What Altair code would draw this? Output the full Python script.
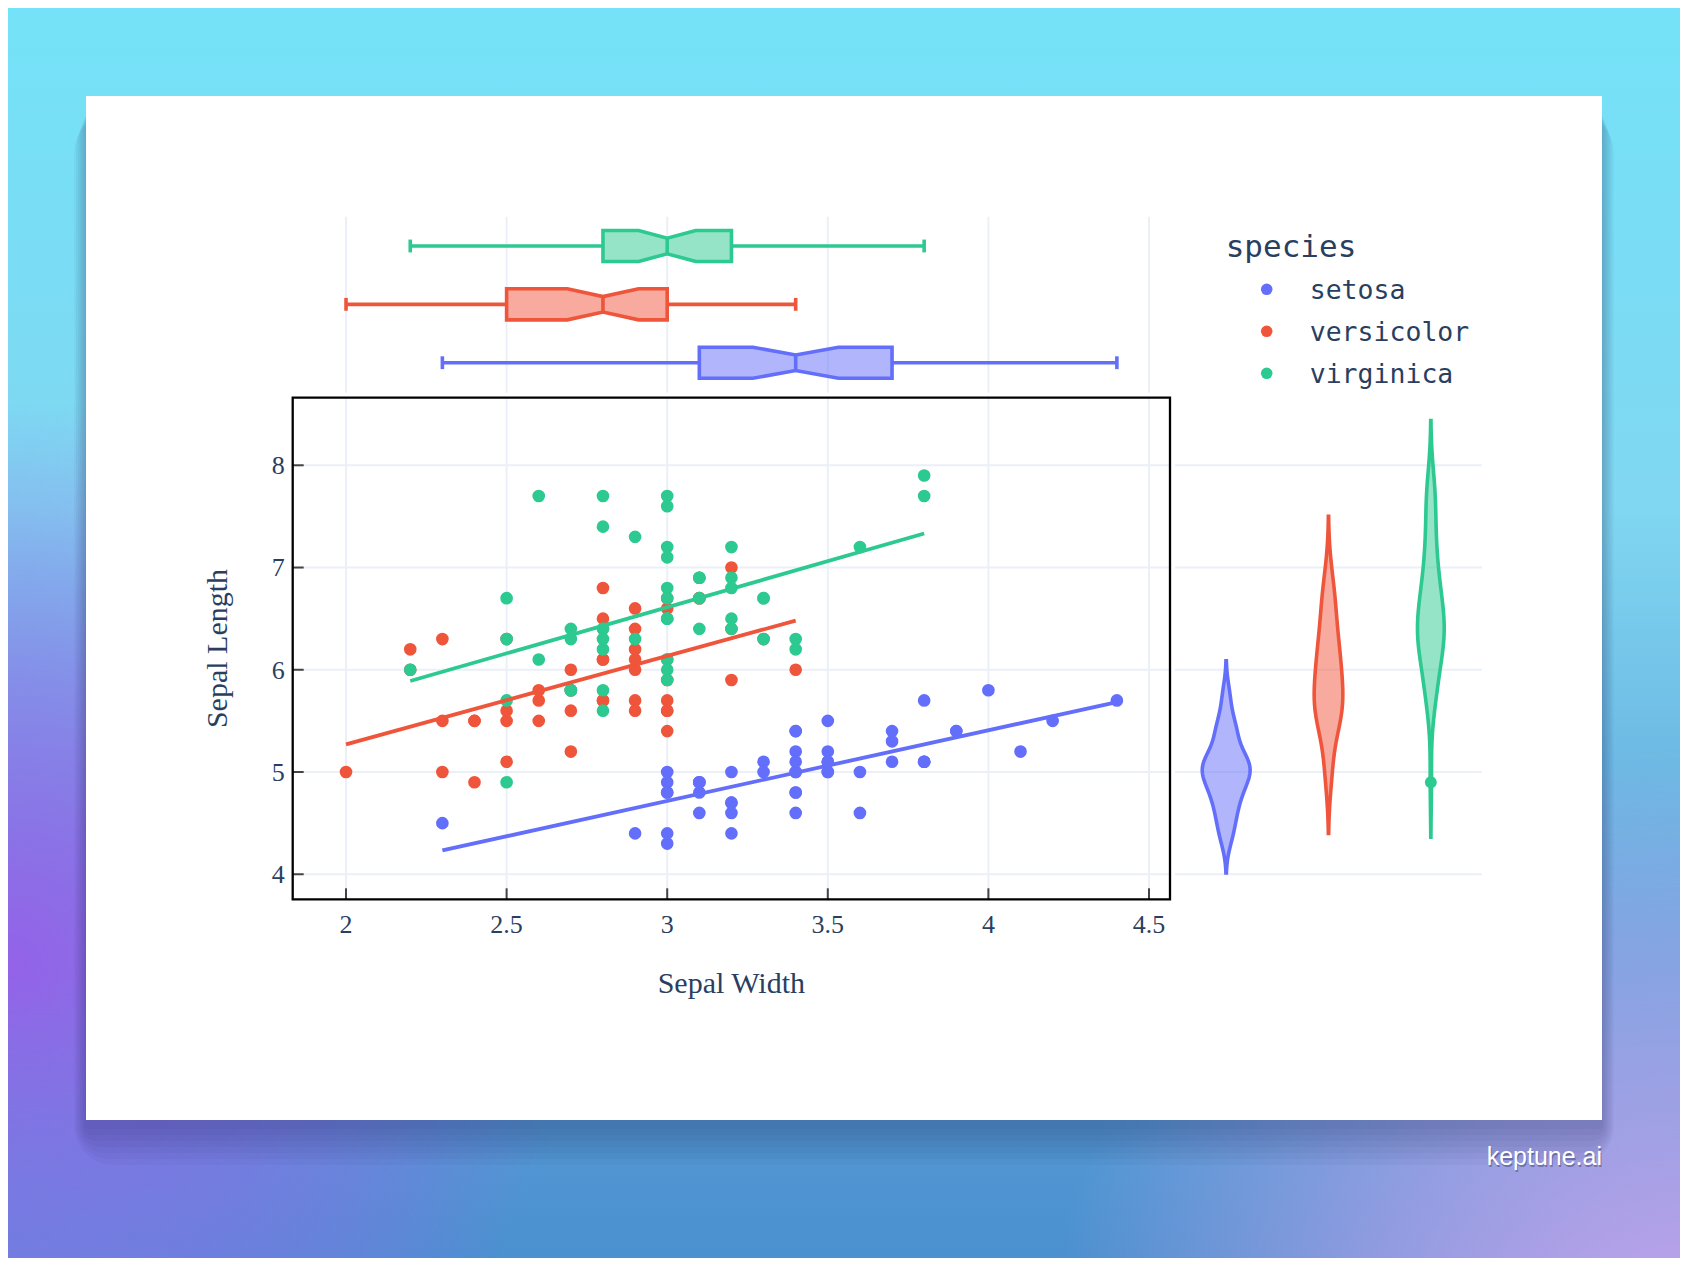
import altair as alt
import numpy as np
import pandas as pd

# ---------------- data (iris) ----------------
species = ["setosa", "versicolor", "virginica"]
colors = ["#636efa", "#ef553b", "#2cc990"]

setosa_sepal_length = [5.1, 4.9, 4.7, 4.6, 5.0, 5.4, 4.6, 5.0, 4.4, 4.9,
                       5.4, 4.8, 4.8, 4.3, 5.8, 5.7, 5.4, 5.1, 5.7, 5.1,
                       5.4, 5.1, 4.6, 5.1, 4.8, 5.0, 5.0, 5.2, 5.2, 4.7,
                       4.8, 5.4, 5.2, 5.5, 4.9, 5.0, 5.5, 4.9, 4.4, 5.1,
                       5.0, 4.5, 4.4, 5.0, 5.1, 4.8, 5.1, 4.6, 5.3, 5.0]
setosa_sepal_width = [3.5, 3.0, 3.2, 3.1, 3.6, 3.9, 3.4, 3.4, 2.9, 3.1,
                      3.7, 3.4, 3.0, 3.0, 4.0, 4.4, 3.9, 3.5, 3.8, 3.8,
                      3.4, 3.7, 3.6, 3.3, 3.4, 3.0, 3.4, 3.5, 3.4, 3.2,
                      3.1, 3.4, 4.1, 4.2, 3.1, 3.2, 3.5, 3.1, 3.0, 3.4,
                      3.5, 2.3, 3.2, 3.5, 3.8, 3.0, 3.8, 3.2, 3.7, 3.3]
versicolor_sepal_length = [7.0, 6.4, 6.9, 5.5, 6.5, 5.7, 6.3, 4.9, 6.6, 5.2,
                           5.0, 5.9, 6.0, 6.1, 5.6, 6.7, 5.6, 5.8, 6.2, 5.6,
                           5.9, 6.1, 6.3, 6.1, 6.4, 6.6, 6.8, 6.7, 6.0, 5.7,
                           5.5, 5.5, 5.8, 6.0, 5.4, 6.0, 6.7, 6.3, 5.6, 5.5,
                           5.5, 6.1, 5.8, 5.0, 5.6, 5.7, 5.7, 6.2, 5.1, 5.7]
versicolor_sepal_width = [3.2, 3.2, 3.1, 2.3, 2.8, 2.8, 3.3, 2.4, 2.9, 2.7,
                          2.0, 3.0, 2.2, 2.9, 2.9, 3.1, 3.0, 2.7, 2.2, 2.5,
                          3.2, 2.8, 2.5, 2.8, 2.9, 3.0, 2.8, 3.0, 2.9, 2.6,
                          2.4, 2.4, 2.7, 2.7, 3.0, 3.4, 3.1, 2.3, 3.0, 2.5,
                          2.6, 3.0, 2.6, 2.3, 2.7, 3.0, 2.9, 2.9, 2.5, 2.8]
virginica_sepal_length = [6.3, 5.8, 7.1, 6.3, 6.5, 7.6, 4.9, 7.3, 6.7, 7.2,
                          6.5, 6.4, 6.8, 5.7, 5.8, 6.4, 6.5, 7.7, 7.7, 6.0,
                          6.9, 5.6, 7.7, 6.3, 6.7, 7.2, 6.2, 6.1, 6.4, 7.2,
                          7.4, 7.9, 6.4, 6.3, 6.1, 7.7, 6.3, 6.4, 6.0, 6.9,
                          6.7, 6.9, 5.8, 6.8, 6.7, 6.7, 6.3, 6.5, 6.2, 5.9]
virginica_sepal_width = [3.3, 2.7, 3.0, 2.9, 3.0, 3.0, 2.5, 2.9, 2.5, 3.6,
                         3.2, 2.7, 3.0, 2.5, 2.8, 3.2, 3.0, 3.8, 2.6, 2.2,
                         3.2, 2.8, 2.8, 2.7, 3.3, 3.2, 2.8, 3.0, 2.8, 3.0,
                         2.8, 3.8, 2.8, 2.8, 2.6, 3.0, 3.4, 3.1, 3.0, 3.1,
                         3.1, 3.1, 2.7, 3.2, 3.3, 3.0, 2.5, 3.0, 3.4, 3.0]

x_ticks = [2, 2.5, 3, 3.5, 4, 4.5]
y_ticks = [4, 5, 6, 7, 8]
x_title = "Sepal Width"
y_title = "Sepal Length"
legend_title = "species"
watermark_text = "keptune.ai"

# ---------------- layout / style ----------------
W, H = 1672, 1250
MX0, MX1 = 284.7, 1162.0          # main plot frame (px)
MY0, MY1 = 389.7, 891.3
X_DOM = [1.834, 4.5654]
Y_DOM = [3.755, 8.661]
BOX_TOP, BOX_BOT = 208.8, 383.9
GRID_BOX_TOP, GRID_BOX_BOT = 208.7, 384.7
VX0, VX1 = 1167.0, 1474.0
CARD = (78, 88, 1594, 1112)
LEG_X, LEG_TITLE_Y, LEG_ROW0, LEG_ROW_STEP = 1217.7, 249.3, 281.3, 42.0

TEXT = "#2a3f5f"
GRID = "#ebf0f8"
SERIF = "Liberation Serif"
MONO = "DejaVu Sans Mono"

BOX_HALF = 0.266
CAP_HALF = 0.11
NOTCH_W = 0.5
VSCALE = 0.2
LW = 3.6

sl = {"setosa": setosa_sepal_length, "versicolor": versicolor_sepal_length,
      "virginica": virginica_sepal_length}
sw = {"setosa": setosa_sepal_width, "versicolor": versicolor_sepal_width,
      "virginica": virginica_sepal_width}

rows = []
for i, s in enumerate(species):
    for w_, l_ in zip(sw[s], sl[s]):
        rows.append({"species": s, "idx": i, "sepal_width": w_, "sepal_length": l_})
df = pd.DataFrame(rows)

stats, poly = [], []
for i, s in enumerate(species):
    a = np.array(sw[s])
    q1, med, q3 = [float(v) for v in np.percentile(a, [25, 50, 75], method="weibull")]
    iqr = q3 - q1
    lo = float(a[a >= q1 - 1.5 * iqr].min())
    hi = float(a[a <= q3 + 1.5 * iqr].max())
    notch = 1.57 * iqr / np.sqrt(len(a))
    stats.append(dict(species=s, idx=i, lo=lo, q1=q1, med=med, q3=q3, hi=hi))
    for xv, f in [(q1, 1), (med - notch, 1), (med, NOTCH_W), (med + notch, 1), (q3, 1)]:
        poly.append(dict(species=s, idx=i, x=float(xv),
                         ytop=i + BOX_HALF * f, ybot=i - BOX_HALF * f))
stats_df = pd.DataFrame(stats)
poly_df = pd.DataFrame(poly)
tx_df = pd.DataFrame({"t": x_ticks})
ty_df = pd.DataFrame({"t": y_ticks})
leg_df = pd.DataFrame({"species": species, "row": list(range(len(species)))})
one = pd.DataFrame({"a": [0]})

color_scale = alt.Scale(domain=species, range=colors)


def mx():
    return alt.Scale(domain=X_DOM, range=[MX0, MX1], nice=False, zero=False)


def my():
    return alt.Scale(domain=Y_DOM, range=[MY1, MY0], nice=False, zero=False)


def by():
    return alt.Scale(domain=[-0.5, 2.5], range=[BOX_BOT, BOX_TOP], nice=False, zero=False)


def vx():
    return alt.Scale(domain=[-0.5, 2.5], range=[VX0, VX1], nice=False, zero=False)


def stroke_enc():
    return alt.Stroke("species:N", scale=color_scale, legend=None)


def fill_enc():
    return alt.Fill("species:N", scale=color_scale, legend=None)


# ---------------- background ----------------
def bg_rect(fill):
    return alt.Chart(one).mark_rect(fill=fill).encode(
        x=alt.value(0), x2=alt.value(W), y=alt.value(0), y2=alt.value(H))


def radial(cx, cy, r, rgb, a0):
    return {"gradient": "radial", "x1": cx, "y1": cy, "r1": 0, "x2": cx, "y2": cy, "r2": r,
            "stops": [{"offset": 0, "color": f"rgba({rgb},{a0})"},
                      {"offset": 0.5, "color": f"rgba({rgb},{a0 * 0.55})"},
                      {"offset": 1, "color": f"rgba({rgb},0)"}]}


bg_layers = [
    bg_rect({"gradient": "linear", "x1": 0, "y1": 0, "x2": 0, "y2": 1,
             "stops": [{"offset": 0, "color": "#74e2f8"},
                       {"offset": 0.4, "color": "#80d7f1"},
                       {"offset": 0.75, "color": "#5fa4db"},
                       {"offset": 1, "color": "#4b90cf"}]}),
    bg_rect(radial(0.0, 0.7, 0.34, "148,98,232", 1.0)),
    bg_rect(radial(0.02, 1.0, 0.3, "115,130,228", 0.8)),
    bg_rect(radial(1.0, 0.95, 0.38, "212,166,240", 0.95)),
]

shadow_layers = []
for k in range(7):
    e = 3 + k * 6
    shadow_layers.append(
        alt.Chart(one).mark_rect(fill="#15264a", opacity=0.04, cornerRadius=e).encode(
            x=alt.value(CARD[0] - e * 0.3), x2=alt.value(CARD[2] + e * 0.3),
            y=alt.value(CARD[1] + 18), y2=alt.value(CARD[3] + 6 + e * 1.0)))

card = alt.Chart(one).mark_rect(fill="white").encode(
    x=alt.value(CARD[0]), x2=alt.value(CARD[2]), y=alt.value(CARD[1]), y2=alt.value(CARD[3]))

# ---------------- top box panel ----------------
box_grid = alt.Chart(tx_df).mark_rule(color=GRID, strokeWidth=2).encode(
    x=alt.X("t:Q", scale=mx(), axis=None),
    y=alt.value(GRID_BOX_TOP), y2=alt.value(GRID_BOX_BOT))

box_body = alt.Chart(poly_df).mark_area(orient="vertical", fillOpacity=0.5, strokeWidth=LW,
                                         strokeJoin="miter").encode(
    x=alt.X("x:Q", scale=mx(), axis=None),
    y=alt.Y("ytop:Q", scale=by(), axis=None), y2="ybot:Q",
    fill=fill_enc(), stroke=stroke_enc(), detail="species:N")

sbase = alt.Chart(stats_df)
wh_lo = sbase.mark_rule(strokeWidth=LW).encode(
    x=alt.X("lo:Q", scale=mx(), axis=None), x2="q1:Q",
    y=alt.Y("idx:Q", scale=by(), axis=None), stroke=stroke_enc())
wh_hi = sbase.mark_rule(strokeWidth=LW).encode(
    x=alt.X("q3:Q", scale=mx(), axis=None), x2="hi:Q",
    y=alt.Y("idx:Q", scale=by(), axis=None), stroke=stroke_enc())
capb = sbase.transform_calculate(ya=f"datum.idx - {CAP_HALF}", yb=f"datum.idx + {CAP_HALF}")
cap_lo = capb.mark_rule(strokeWidth=LW).encode(
    x=alt.X("lo:Q", scale=mx(), axis=None),
    y=alt.Y("ya:Q", scale=by(), axis=None), y2="yb:Q", stroke=stroke_enc())
cap_hi = capb.mark_rule(strokeWidth=LW).encode(
    x=alt.X("hi:Q", scale=mx(), axis=None),
    y=alt.Y("ya:Q", scale=by(), axis=None), y2="yb:Q", stroke=stroke_enc())
med_line = sbase.transform_calculate(
    ya=f"datum.idx - {BOX_HALF * NOTCH_W}", yb=f"datum.idx + {BOX_HALF * NOTCH_W}"
).mark_rule(strokeWidth=LW).encode(
    x=alt.X("med:Q", scale=mx(), axis=None),
    y=alt.Y("ya:Q", scale=by(), axis=None), y2="yb:Q", stroke=stroke_enc())

box_panel = alt.layer(box_grid, wh_lo, wh_hi, cap_lo, cap_hi, box_body, med_line)

# ---------------- right violin panel ----------------
v_grid = alt.Chart(ty_df).mark_rule(color=GRID, strokeWidth=2).encode(
    y=alt.Y("t:Q", scale=my(), axis=None), x=alt.value(VX0), x2=alt.value(VX1))

violins = []
for i, s in enumerate(species):
    a = np.array(sl[s])
    q1, q3 = np.percentile(a, [25, 75], method="weibull")
    bw = float(1.059 * min(a.std(ddof=1), (q3 - q1) / 1.349) * len(a) ** -0.2)
    lo, hi = float(a.min() - 2 * bw), float(a.max() + 2 * bw)
    violins.append(
        alt.Chart(df).transform_filter(alt.datum.species == s)
        .transform_density("sepal_length", as_=["v", "density"], bandwidth=bw,
                           extent=[lo, hi], steps=240, groupby=["species"])
        .transform_calculate(xl=f"{i} - datum.density * {VSCALE}",
                             xr=f"{i} + datum.density * {VSCALE}")
        .mark_area(orient="horizontal", fillOpacity=0.5, strokeWidth=LW)
        .encode(y=alt.Y("v:Q", scale=my(), axis=None),
                x=alt.X("xl:Q", scale=vx(), axis=None), x2="xr:Q",
                fill=fill_enc(), stroke=stroke_enc()))

outliers = alt.Chart(df).transform_joinaggregate(
    q1="q1(sepal_length)", q3="q3(sepal_length)", groupby=["species"]
).transform_filter(
    "datum.sepal_length < datum.q1 - 1.5 * (datum.q3 - datum.q1) || "
    "datum.sepal_length > datum.q3 + 1.5 * (datum.q3 - datum.q1)"
).mark_circle(size=140, opacity=1).encode(
    x=alt.X("idx:Q", scale=vx(), axis=None),
    y=alt.Y("sepal_length:Q", scale=my(), axis=None),
    fill=fill_enc())

violin_panel = alt.layer(v_grid, *violins, outliers)

# ---------------- main scatter panel ----------------
m_grid_v = alt.Chart(tx_df).mark_rule(color=GRID, strokeWidth=2).encode(
    x=alt.X("t:Q", scale=mx(), axis=None), y=alt.value(MY0), y2=alt.value(MY1))
m_grid_h = alt.Chart(ty_df).mark_rule(color=GRID, strokeWidth=2).encode(
    y=alt.Y("t:Q", scale=my(), axis=None), x=alt.value(MX0), x2=alt.value(MX1))

points = alt.Chart(df).mark_circle(size=160, opacity=1).encode(
    x=alt.X("sepal_width:Q", scale=mx(), axis=None),
    y=alt.Y("sepal_length:Q", scale=my(), axis=None),
    color=alt.Color("species:N", scale=color_scale, legend=None))

reg = alt.Chart(df).transform_regression(
    "sepal_width", "sepal_length", groupby=["species"]
).mark_line(strokeWidth=3.8).encode(
    x=alt.X("sepal_width:Q", scale=mx(), axis=None),
    y=alt.Y("sepal_length:Q", scale=my(), axis=None),
    stroke=stroke_enc())

frame = alt.Chart(one).mark_rect(fillOpacity=0, stroke="black", strokeWidth=2.3).encode(
    x=alt.value(MX0), x2=alt.value(MX1), y=alt.value(MY0), y2=alt.value(MY1))

tick_x = alt.Chart(tx_df).mark_rule(color="#444444", strokeWidth=2).encode(
    x=alt.X("t:Q", scale=mx(), axis=None), y=alt.value(MY1 - 11), y2=alt.value(MY1))
tick_y = alt.Chart(ty_df).mark_rule(color="#444444", strokeWidth=2).encode(
    y=alt.Y("t:Q", scale=my(), axis=None), x=alt.value(MX0), x2=alt.value(MX0 + 11))

lab_x = alt.Chart(tx_df).mark_text(font=SERIF, fontSize=26, color=TEXT, align="center",
                                   baseline="alphabetic").encode(
    x=alt.X("t:Q", scale=mx(), axis=None), y=alt.value(MY1 + 33.4),
    text=alt.Text("t:Q", format="~g"))
lab_y = alt.Chart(ty_df).mark_text(font=SERIF, fontSize=26, color=TEXT, align="right",
                                   baseline="alphabetic", dy=8.8).encode(
    y=alt.Y("t:Q", scale=my(), axis=None), x=alt.value(MX0 - 8),
    text=alt.Text("t:Q", format="~g"))
title_x = alt.Chart(one).mark_text(text=x_title, font=SERIF, fontSize=30, color=TEXT,
                                   align="center", baseline="alphabetic").encode(
    x=alt.value((MX0 + MX1) / 2), y=alt.value(MY1 + 93.4))
title_y = alt.Chart(one).mark_text(text=y_title, font=SERIF, fontSize=30, color=TEXT,
                                   align="center", baseline="alphabetic", angle=270).encode(
    x=alt.value(219), y=alt.value((MY0 + MY1) / 2))

main_panel = alt.layer(m_grid_v, m_grid_h, points, reg, tick_x, tick_y, frame,
                       lab_x, lab_y, title_x, title_y)

# ---------------- legend ----------------
leg_base = alt.Chart(leg_df).transform_calculate(
    ly=f"{LEG_ROW0} + datum.row * {LEG_ROW_STEP}")
leg_sym = leg_base.mark_circle(size=133, opacity=1).encode(
    x=alt.value(LEG_X + 41), y=alt.Y("ly:Q", scale=None, axis=None),
    color=alt.Color("species:N", scale=color_scale, legend=None))
leg_lab = leg_base.mark_text(font=MONO, fontSize=26.5, color=TEXT, align="left",
                             baseline="alphabetic", dy=10).encode(
    x=alt.value(LEG_X + 84), y=alt.Y("ly:Q", scale=None, axis=None),
    text="species:N")
leg_title = alt.Chart(one).mark_text(text=legend_title, font=MONO, fontSize=31, color=TEXT,
                                     align="left", baseline="alphabetic").encode(
    x=alt.value(LEG_X), y=alt.value(LEG_TITLE_Y))
legend_panel = alt.layer(leg_sym, leg_lab, leg_title)

# ---------------- watermark ----------------
wm_shadow = alt.Chart(one).mark_text(text=watermark_text, font="Liberation Sans", fontSize=25,
                                     fontWeight=500, align="right", baseline="alphabetic",
                                     color="#102040", opacity=0.35, dx=1, dy=2).encode(
    x=alt.value(1594), y=alt.value(1157))
wm = alt.Chart(one).mark_text(text=watermark_text, font="Liberation Sans", fontSize=25,
                              fontWeight=500, align="right", baseline="alphabetic",
                              color="white").encode(
    x=alt.value(1594), y=alt.value(1157))

chart = alt.layer(
    *bg_layers, *shadow_layers, card, box_panel, violin_panel, main_panel, legend_panel,
    wm_shadow, wm
).resolve_scale(
    x="independent", y="independent"
).properties(
    width=W, height=H, autosize=alt.AutoSizeParams(type="none"), padding=0
).configure_view(stroke=None)

chart.save("out.html", embed_options={"renderer": "svg", "actions": False})
